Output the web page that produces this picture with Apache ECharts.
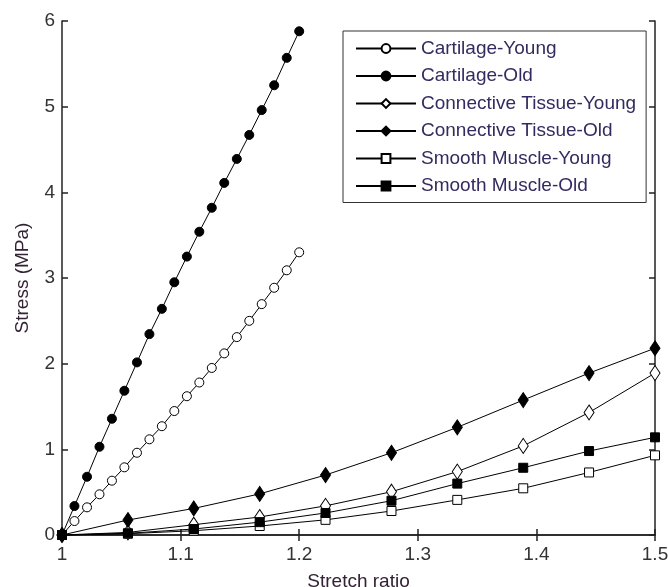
<!DOCTYPE html>
<html>
<head>
<meta charset="utf-8">
<script src="https://cdn.jsdelivr.net/npm/echarts@6/dist/echarts.min.js"></script>
<style>html,body{margin:0;padding:0;background:#fff;}#c{width:668px;height:587px;}</style>
</head>
<body>
<div id="c"></div>
<script>
// Cartilage series x values (stretch ratio)
var xCartilage = [1.0, 1.0105, 1.0211, 1.0316, 1.0421, 1.0526, 1.0632, 1.0737, 1.0842, 1.0947,
                  1.1053, 1.1158, 1.1263, 1.1368, 1.1474, 1.1579, 1.1684, 1.1789, 1.1895, 1.2];
var cartilageYoung = [0, 0.163, 0.323, 0.475, 0.634, 0.79, 0.96, 1.117, 1.27, 1.447,
                      1.62, 1.78, 1.95, 2.12, 2.31, 2.50, 2.695, 2.886, 3.09, 3.30];
var cartilageOld = [0, 0.338, 0.68, 1.03, 1.357, 1.684, 2.015, 2.345, 2.64, 2.95,
                    3.25, 3.54, 3.82, 4.11, 4.39, 4.67, 4.96, 5.25, 5.57, 5.88];
// Tissue / muscle series x values
var xTissue = [1.0, 1.0556, 1.1111, 1.1667, 1.2222, 1.2778, 1.3333, 1.3889, 1.4444, 1.5];
var connectiveYoung = [0, 0.03, 0.12, 0.21, 0.34, 0.505, 0.74, 1.04, 1.43, 1.89];
var connectiveOld = [0, 0.175, 0.31, 0.48, 0.70, 0.96, 1.257, 1.575, 1.89, 2.18];
var muscleYoung = [0, 0.015, 0.05, 0.105, 0.177, 0.28, 0.41, 0.545, 0.73, 0.93];
var muscleOld = [0, 0.02, 0.07, 0.15, 0.257, 0.40, 0.60, 0.785, 0.98, 1.14];

var seriesNames = ['Cartilage-Young', 'Cartilage-Old', 'Connective Tissue-Young',
                   'Connective Tissue-Old', 'Smooth Muscle-Young', 'Smooth Muscle-Old'];
var xTicks = [1, 1.1, 1.2, 1.3, 1.4, 1.5];
var yTicks = [0, 1, 2, 3, 4, 5, 6];

function pairs(xs, ys) { return xs.map(function (x, i) { return [x, ys[i]]; }); }

var FONT = 'Liberation Sans';
var AX = '#222';
var FS = 19;

function mk(name, xs, ys, symbol, size, filled) {
  return {
    name: name, type: 'line', data: pairs(xs, ys),
    symbol: symbol, symbolSize: size, showAllSymbol: true,
    lineStyle: { color: '#000', width: 1 },
    itemStyle: { color: filled ? '#000' : '#fff', borderColor: '#000', borderWidth: 1 },
    emphasis: { disabled: true },
    clip: false, animation: false
  };
}

var chart = echarts.init(document.getElementById('c'), null, { renderer: 'canvas' });
chart.setOption({
  animation: false,
  backgroundColor: '#fff',
  grid: { left: 62, right: 13, top: 21, bottom: 52, containLabel: false, outerBoundsMode: 'none' },
  legend: {
    orient: 'vertical', left: 343, top: 31,
    padding: [8, 10, 7, 12], itemGap: 8.5, itemWidth: 60, itemHeight: 11,
    borderColor: '#333', borderWidth: 1, backgroundColor: '#fff',
    textStyle: { fontSize: FS, fontFamily: FONT, color: '#352a60' },
    data: seriesNames
  },
  xAxis: [{
    type: 'value', min: 1, max: 1.5, interval: 0.1,
    name: 'Stretch ratio', nameLocation: 'middle', nameGap: 37,
    nameTextStyle: { fontSize: FS, fontFamily: FONT, color: '#332233' },
    axisLine: { show: true, lineStyle: { color: AX, width: 1.5 } },
    axisTick: { show: true, inside: true, length: 6, lineStyle: { color: AX, width: 1.5 } },
    axisLabel: { fontSize: FS, fontFamily: FONT, color: '#333', margin: 10,
      formatter: function (v) { return xTicks.indexOf(Math.round(v * 10) / 10) >= 0 ? String(Math.round(v * 10) / 10) : ''; } },
    splitLine: { show: false }
  }, {
    type: 'value', position: 'top', min: 1, max: 1.5, interval: 0.1,
    axisLine: { show: true, lineStyle: { color: AX, width: 1.5 } },
    axisTick: { show: true, inside: true, length: 6, lineStyle: { color: AX, width: 1.5 } },
    axisLabel: { show: false }, splitLine: { show: false }
  }],
  yAxis: [{
    type: 'value', min: 0, max: 6, interval: 1,
    name: 'Stress (MPa)', nameLocation: 'middle', nameGap: 30,
    nameTextStyle: { fontSize: FS, fontFamily: FONT, color: '#332233' },
    axisLine: { show: true, lineStyle: { color: AX, width: 1.5 } },
    axisTick: { show: true, inside: true, length: 6, lineStyle: { color: AX, width: 1.5 } },
    axisLabel: { fontSize: FS, fontFamily: FONT, color: '#333', margin: 7,
      formatter: function (v) { return yTicks.indexOf(v) >= 0 ? String(v) : ''; } },
    splitLine: { show: false }
  }, {
    type: 'value', position: 'right', min: 0, max: 6, interval: 1,
    axisLine: { show: true, lineStyle: { color: AX, width: 1.5 } },
    axisTick: { show: true, inside: true, length: 6, lineStyle: { color: AX, width: 1.5 } },
    axisLabel: { show: false }, splitLine: { show: false }
  }],
  series: [
    mk(seriesNames[0], xCartilage, cartilageYoung, 'circle', 9, false),
    mk(seriesNames[1], xCartilage, cartilageOld, 'circle', 9, true),
    mk(seriesNames[2], xTissue, connectiveYoung, 'diamond', [10, 15], false),
    mk(seriesNames[3], xTissue, connectiveOld, 'diamond', [10, 15], true),
    mk(seriesNames[4], xTissue, muscleYoung, 'rect', 9, false),
    mk(seriesNames[5], xTissue, muscleOld, 'rect', 9, true)
  ]
});
</script>
</body>
</html>
